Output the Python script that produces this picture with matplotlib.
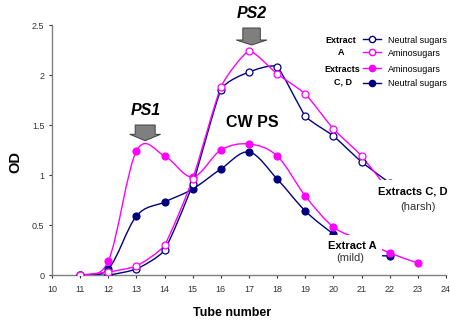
import numpy as np
import matplotlib
matplotlib.use("Agg")
import matplotlib.pyplot as plt
from matplotlib.path import Path
from matplotlib.patches import PathPatch, FancyArrow
from matplotlib.lines import Line2D

plt.rcParams["font.family"] = ["Liberation Sans", "DejaVu Sans"]

NAVY = "#000080"
MAGENTA = "#ff00ff"

# Extract A (mild)
tubes_a = [11, 12, 13, 14, 15, 16, 17, 18, 19, 20, 21, 22]
neutral_a = [0.0, 0.0, 0.06, 0.25, 0.91, 1.85, 2.03, 2.08, 1.59, 1.39, 1.13, 0.92]
amino_a = [0.0, 0.03, 0.09, 0.30, 0.96, 1.88, 2.24, 2.01, 1.81, 1.46, 1.19, 0.83]

# Extracts C, D (harsh)
tubes_amino_cd = [11, 12, 13, 14, 15, 16, 17, 18, 19, 20, 21, 22, 23]
amino_cd = [0.0, 0.14, 1.24, 1.19, 0.98, 1.25, 1.31, 1.19, 0.79, 0.48, 0.35, 0.22, 0.12]
tubes_neutral_cd = [11, 12, 13, 14, 15, 16, 17, 18, 19, 20, 21, 22]
neutral_cd = [0.0, 0.06, 0.59, 0.73, 0.86, 1.06, 1.23, 0.96, 0.64, 0.41, 0.22, 0.19]

x_ticks = list(range(10, 25))
y_ticks = [0, 0.5, 1, 1.5, 2, 2.5]
y_tick_labels = ["0", "0.5", "1", "1.5", "2", "2.5"]


def smooth_path(xs, ys, k=1 / 6):
    # bezier smoothing through the points, like the spreadsheet "smoothed line"
    n = len(xs)
    verts = [(xs[0], ys[0])]
    codes = [Path.MOVETO]
    for i in range(n - 1):
        i0 = max(i - 1, 0)
        i3 = min(i + 2, n - 1)
        c1 = (xs[i] + (xs[i + 1] - xs[i0]) * k, ys[i] + (ys[i + 1] - ys[i0]) * k)
        c2 = (xs[i + 1] - (xs[i3] - xs[i]) * k, ys[i + 1] - (ys[i3] - ys[i]) * k)
        verts += [c1, c2, (xs[i + 1], ys[i + 1])]
        codes += [Path.CURVE4] * 3
    return Path(verts, codes)


def draw_series(ax, xs, ys, color, filled, z, k=1 / 6):
    ax.add_patch(PathPatch(smooth_path(xs, ys, k), fill=False, edgecolor=color, lw=1.0, zorder=z))
    ax.plot(xs, ys, linestyle="none", marker="o", markersize=5,
            markerfacecolor=color if filled else "white", markeredgecolor=color,
            markeredgewidth=0.9, zorder=z + 0.5)


fig = plt.figure(figsize=(4.5, 3.23), dpi=100)
ax = fig.add_axes([0.1156, 0.1486, 0.8756, 0.774])

draw_series(ax, tubes_neutral_cd, neutral_cd, NAVY, True, 2)
draw_series(ax, tubes_amino_cd, amino_cd, MAGENTA, True, 2.2)
draw_series(ax, tubes_a, neutral_a, NAVY, False, 3, k=1 / 12)
draw_series(ax, tubes_a, amino_a, MAGENTA, False, 3.2, k=1 / 12)

ax.set_xlim(10, 24)
ax.set_ylim(0, 2.5)
ax.set_xticks(x_ticks)
ax.set_yticks(y_ticks)
ax.set_yticklabels(y_tick_labels)
ax.tick_params(labelsize=6.5, colors="#333333", length=2.5, width=0.8, pad=3)
ax.tick_params(axis="x", pad=4.5)
for s in ["top", "right"]:
    ax.spines[s].set_visible(False)
for s in ["left", "bottom"]:
    ax.spines[s].set_color("#808080")
    ax.spines[s].set_linewidth(1.0)

ax.text(-0.094, 0.452, "OD", transform=ax.transAxes, rotation=90, ha="center", va="center",
        fontsize=10.5, fontweight="bold")
ax.text(0.457, -0.152, "Tube number", transform=ax.transAxes, ha="center", va="center",
        fontsize=9, fontweight="bold")

# peak annotations
ax.text(13.33, 1.65, "PS1", ha="center", va="center", fontsize=11.5, fontweight="bold",
        style="italic", clip_on=False)
ax.text(17.09, 2.62, "PS2", ha="center", va="center", fontsize=11.5, fontweight="bold",
        style="italic", clip_on=False)
ax.text(17.1, 1.53, "CW PS", ha="center", va="center", fontsize=11.5, fontweight="bold")
ax.add_patch(FancyArrow(13.31, 1.50, 0, -0.157, width=0.71, head_width=1.09, head_length=0.064,
                        length_includes_head=True, facecolor="#7f7f7f", edgecolor="#404040",
                        lw=0.7, zorder=6))
ax.add_patch(FancyArrow(17.09, 2.47, 0, -0.17, width=0.62, head_width=1.09, head_length=0.05,
                        length_includes_head=True, facecolor="#7f7f7f", edgecolor="#404040",
                        lw=0.7, zorder=6, clip_on=False))

# extract labels with white boxes over the line ends
ax.text(22.81, 0.84, "Extracts C, D", ha="center", va="center", fontsize=8, fontweight="bold",
        bbox=dict(facecolor="white", edgecolor="none", pad=4), zorder=10)
ax.text(22.99, 0.68, "(harsh)", ha="center", va="center", fontsize=8, color="#333333",
        bbox=dict(facecolor="white", edgecolor="none", pad=2.5), zorder=10)
ax.text(20.68, 0.29, "Extract A", ha="center", va="center", fontsize=8, fontweight="bold",
        bbox=dict(facecolor="white", edgecolor="none", pad=4), zorder=10)
ax.text(20.6, 0.17, "(mild)", ha="center", va="center", fontsize=8, color="#333333",
        bbox=dict(facecolor="white", edgecolor="none", pad=2.5), zorder=10)

# legend
def handle(color, filled):
    return Line2D([], [], color=color, lw=1.0, marker="o", markersize=4.5,
                  markerfacecolor=color if filled else "white", markeredgecolor=color)

leg_kw = dict(frameon=False, fontsize=6.5, handlelength=2.0, handletextpad=0.8,
              borderpad=0, borderaxespad=0, labelspacing=0.45, loc="upper left",
              bbox_transform=fig.transFigure)
leg1 = ax.legend([handle(NAVY, False), handle(MAGENTA, False)], ["Neutral sugars", "Aminosugars"],
                 bbox_to_anchor=(0.807, 0.89), **leg_kw)
ax.add_artist(leg1)
leg_kw["labelspacing"] = 0.6
ax.legend([handle(MAGENTA, True), handle(NAVY, True)], ["Aminosugars", "Neutral sugars"],
          bbox_to_anchor=(0.807, 0.80), **leg_kw)
fig.text(340.8 / 450, 1 - 46.7 / 323, "Extract\nA", ha="center", va="center", fontsize=6.5,
         fontweight="bold", linespacing=1.45)
fig.text(342.7 / 450, 1 - 76.0 / 323, "Extracts\nC, D", ha="center", va="center", fontsize=6.5,
         fontweight="bold", linespacing=1.45)

fig.savefig("out.png", dpi=100)
